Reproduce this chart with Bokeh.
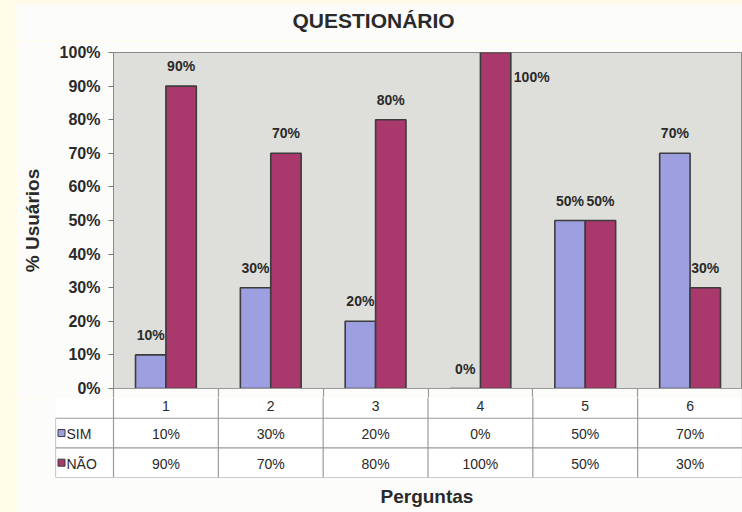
from bokeh.plotting import figure
from bokeh.models import (ColumnDataSource, FixedTicker, PrintfTickFormatter,
                          Title, Range1d, LinearAxis)
from bokeh.embed import file_html
from bokeh.resources import INLINE
from bokeh.core.properties import value

# ---------------- data ----------------
categories = ["1", "2", "3", "4", "5", "6"]
series_names = ["SIM", "NÃO"]
sim_values = [10, 30, 20, 0, 50, 70]
nao_values = [90, 70, 80, 100, 50, 30]
y_ticks = [0, 10, 20, 30, 40, 50, 60, 70, 80, 90, 100]
title_text = "QUESTIONÁRIO"
y_label = "% Usuários"
x_label = "Perguntas"

# ---------------- style ----------------
FONT = "Liberation Sans"
SIM_COLOR = "#9d9fe0"
NAO_COLOR = "#a9386c"
BAR_LINE = "#3c3c3c"
PLOT_BG = "#dededa"
CHART_BG = "#fcfcfb"
PAGE_BG = "#fffbe6"
GRID_LINE = "#9a9a9a"
TXT = "#2a2a2a"

W = 726
TOP_PAD = 12              # space above plot frame inside chart figure
BOT_PAD = 9               # space below plot frame inside chart figure
TITLE_H = 48 - TOP_PAD
FRAME_LEFT = 97           # px inside figure
FRAME_W = W - FRAME_LEFT
FRAME_H = 336
ROW_H = 30                # table row height (px)
PPU = FRAME_W / len(categories)   # pixels per category
BAR_W = 0.29

n = len(categories)
xs = list(range(1, n + 1))

# ---------------- title strip ----------------
pT = figure(width=W, height=TITLE_H, x_range=Range1d(0, W), y_range=Range1d(0, TITLE_H),
            x_axis_location=None, y_axis_location=None, toolbar_location=None,
            output_backend="svg", min_border=0)
pT.background_fill_color = CHART_BG
pT.border_fill_color = CHART_BG
pT.outline_line_color = None
pT.grid.visible = False
pT.text(x=[276], y=[TITLE_H - 15.5], text=[title_text], text_align="left",
        text_baseline="middle", text_font=value(FONT), text_font_size="21px",
        text_font_style="bold", text_color=TXT)

# ---------------- chart ----------------
pA = figure(width=W, height=FRAME_H + TOP_PAD + BOT_PAD,
            x_range=Range1d(0.5, n + 0.5), y_range=Range1d(0, 100),
            x_axis_location=None, toolbar_location=None, output_backend="svg",
            min_border_left=FRAME_LEFT, min_border_right=0, min_border_top=TOP_PAD,
            min_border_bottom=BOT_PAD)
pA.background_fill_color = PLOT_BG
pA.border_fill_color = CHART_BG
pA.outline_line_color = "#8a8a8a"
pA.grid.visible = False

# x axis whose ticks are the table's column rules (top part of the header row)
xa = LinearAxis(ticker=FixedTicker(ticks=[x + 0.5 for x in range(0, n + 1)]),
                major_tick_in=0, major_tick_out=BOT_PAD, major_label_standoff=0,
                major_label_text_font_size="0px", major_label_text_color=None,
                minor_tick_line_color=None,
                major_tick_line_color=GRID_LINE, major_tick_line_width=1.2,
                axis_line_color=GRID_LINE, axis_line_width=1.2)
pA.add_layout(xa, "below")

ya = pA.yaxis[0]
ya.ticker = FixedTicker(ticks=y_ticks)
ya.formatter = PrintfTickFormatter(format="%d%%")
ya.minor_tick_line_color = None
ya.major_tick_in = 0
ya.major_tick_out = 5
ya.major_tick_line_color = "#777777"
ya.axis_line_color = "#8a8a8a"
ya.major_label_standoff = 8
ya.major_label_text_font = FONT
ya.major_label_text_font_size = "16px"
ya.major_label_text_font_style = "bold"
ya.major_label_text_color = TXT
ya.axis_label = y_label
ya.axis_label_text_font = FONT
ya.axis_label_text_font_size = "19px"
ya.axis_label_text_font_style = "bold"
ya.axis_label_text_color = TXT
ya.axis_label_standoff = 14

sim_x = [x - BAR_W / 2 for x in xs]
nao_x = [x + BAR_W / 2 for x in xs]
pA.vbar(x=sim_x, top=sim_values, bottom=0, width=BAR_W, fill_color=SIM_COLOR,
        line_color=BAR_LINE, line_width=1.6)
pA.vbar(x=nao_x, top=nao_values, bottom=0, width=BAR_W, fill_color=NAO_COLOR,
        line_color=BAR_LINE, line_width=1.6)

# data labels
lx, ly, lt, lxo, lyo, la = [], [], [], [], [], []
for xs_, vals in ((sim_x, sim_values), (nao_x, nao_values)):
    for x, v in zip(xs_, vals):
        lx.append(x)
        ly.append(v)
        lt.append(f"{v}%")
        if v >= 95:   # no room above the bar: put it beside the bar
            lxo.append(BAR_W / 2 * PPU + 3)
            lyo.append(24)
            la.append("left")
        else:
            lxo.append(0)
            lyo.append(-20)
            la.append("center")
lab_src = ColumnDataSource(dict(x=lx, y=ly, text=lt, xo=lxo, yo=lyo, align=la))
pA.text(x="x", y="y", text="text", x_offset="xo", y_offset="yo", text_align="align",
        text_baseline="middle", source=lab_src, text_font=value(FONT),
        text_font_size="14px", text_font_style="bold", text_color=TXT)

# ---------------- data table ----------------
LEG_W = 58  # width of legend column (px)
x_start = 0.5 - LEG_W / PPU
y_top = BOT_PAD / ROW_H      # part of header row already drawn in the chart figure
pB = figure(width=W, height=3 * ROW_H - BOT_PAD + 34,
            x_range=Range1d(x_start, n + 0.5), y_range=Range1d(3, y_top),
            x_axis_location=None, y_axis_location=None, toolbar_location=None,
            output_backend="svg", min_border_left=FRAME_LEFT - LEG_W,
            min_border_right=0, min_border_top=0, min_border_bottom=34)
pB.background_fill_color = "#ffffff"
pB.border_fill_color = CHART_BG
pB.outline_line_color = None
pB.grid.visible = False

hx0 = [x_start, x_start, x_start]
hx1 = [n + 0.5] * 3
hy = [1, 2, 3]
vx = [x + 0.5 for x in range(0, n + 1)] + [x_start]
vy0 = [0] * (n + 1) + [1]
vy1 = [3] * (n + 2)
pB.segment(x0=hx0, y0=hy, x1=hx1, y1=hy, line_color=GRID_LINE, line_width=1.2)
pB.segment(x0=vx, y0=vy0, x1=vx, y1=vy1, line_color=GRID_LINE, line_width=1.2)

cell_x = xs * 3
cell_y = [0.5] * n + [1.5] * n + [2.5] * n
cell_t = categories + [f"{v}%" for v in sim_values] + [f"{v}%" for v in nao_values]
cell_yo = [3] * n + [1] * n + [1] * n
pB.text(x=cell_x, y=cell_y, text=cell_t, y_offset=cell_yo, text_align="center",
        text_baseline="middle", text_font=value(FONT), text_font_size="14px",
        text_color=TXT)

pB.rect(x=[x_start + 6 / PPU] * 2, y=[1.5, 2.5], width=7, height=7,
        width_units="screen", height_units="screen",
        fill_color=[SIM_COLOR, NAO_COLOR], line_color=BAR_LINE, line_width=1)
pB.text(x=[x_start + 11 / PPU] * 2, y=[1.5, 2.5], text=series_names, y_offset=1,
        text_align="left", text_baseline="middle", text_font=value(FONT),
        text_font_size="14px", text_color=TXT)

tb = Title(text=x_label, align="left", offset=325, standoff=12,
           text_font=FONT, text_font_size="19px", text_font_style="bold",
           text_color=TXT)
pB.add_layout(tb, "below")

html = file_html([pT, pA, pB], INLINE)
css = ("<style>html,body{background:%s !important;}"
       "body{padding:4px 0 0 16px !important;box-sizing:border-box !important;"
       "line-height:0;}</style>" % PAGE_BG)
html = html.replace("</head>", css + "</head>", 1)
open("out.html", "w").write(html)
